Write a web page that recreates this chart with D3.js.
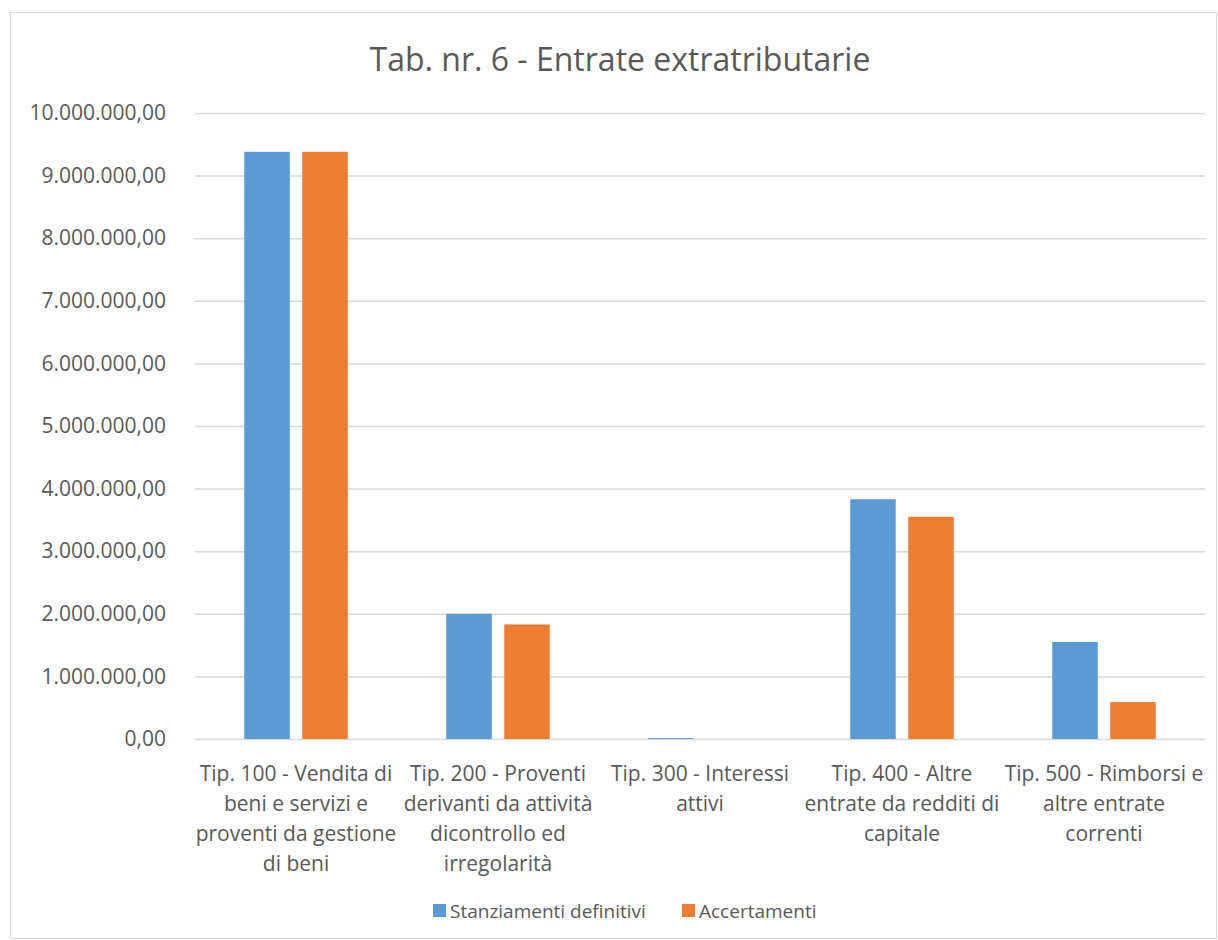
<!DOCTYPE html>
<html>
<head>
<meta charset="utf-8">
<script src="https://cdn.jsdelivr.net/npm/d3@7"></script>
<style>
  body { margin: 0; background: #fff; }
  svg text { font-family: "Open Sans", "Noto Sans", sans-serif; fill: #595959; }
</style>
</head>
<body>
<svg id="chart"></svg>
<script>
// data
const categories = [
  "Tip. 100 - Vendita di|beni e servizi e|proventi da gestione|di beni",
  "Tip. 200 - Proventi|derivanti da attività|dicontrollo ed|irregolarità",
  "Tip. 300 - Interessi|attivi",
  "Tip. 400 - Altre|entrate da redditi di|capitale",
  "Tip. 500 - Rimborsi e|altre entrate|correnti"
];
const seriesNames = ["Stanziamenti definitivi", "Accertamenti"];
const stanziamenti = [9380000, 2000000, 15000, 3830000, 1550000];
const accertamenti = [9380000, 1830000, 0, 3550000, 590000];
const yTicks = [0, 1e6, 2e6, 3e6, 4e6, 5e6, 6e6, 7e6, 8e6, 9e6, 10e6];
const colors = ["#5b9bd5", "#ed7d31"];

const width = 1218, height = 940;
const margin = {top: 113, right: 13, bottom: 200, left: 195};

const svg = d3.select("#chart").attr("width", width).attr("height", height);

// outer frame
svg.append("rect")
  .attr("x", 10.5).attr("y", 12.5)
  .attr("width", width - 12).attr("height", height - 14)
  .attr("fill", "#fff").attr("stroke", "#d9d9d9");

svg.append("text")
  .attr("x", 620).attr("y", 71)
  .attr("text-anchor", "middle")
  .style("font-size", "32px")
  .text("Tab. nr. 6 - Entrate extratributarie");

const x = d3.scaleBand()
  .domain(d3.range(categories.length))
  .range([margin.left, width - margin.right]);

const xInner = d3.scaleBand()
  .domain(d3.range(seriesNames.length))
  .range([0, x.bandwidth()])
  .paddingInner(0.2155)
  .paddingOuter(0.849);

const y = d3.scaleLinear()
  .domain([0, 10e6])
  .range([height - margin.bottom - 1, margin.top]);

const fmt = d3.formatLocale({decimal: ",", thousands: ".", grouping: [3], currency: ["", ""]}).format(",.2f");

// y axis with gridlines
const yAxis = svg.append("g")
  .attr("transform", `translate(${margin.left},0)`)
  .call(d3.axisLeft(y).tickValues(yTicks).tickFormat(fmt).tickSize(0).tickPadding(29));
yAxis.select(".domain").remove();
yAxis.selectAll(".tick text").style("font-size", "21px").attr("fill", "#595959");
yAxis.selectAll(".tick line").clone()
  .attr("x2", width - margin.left - margin.right)
  .attr("stroke", "#d9d9d9").attr("stroke-width", 1.5);

// bars
const series = [stanziamenti, accertamenti];
series.forEach((vals, s) => {
  svg.append("g").selectAll("rect")
    .data(vals)
    .join("rect")
    .attr("x", (d, i) => x(i) + xInner(s))
    .attr("width", xInner.bandwidth())
    .attr("y", d => y(d))
    .attr("height", d => y(0) - y(d))
    .attr("fill", colors[s]);
});

// category labels
const xl = svg.append("g");
categories.forEach((c, i) => {
  const t = xl.append("text")
    .attr("text-anchor", "middle")
    .attr("x", x(i) + x.bandwidth() / 2)
    .style("font-size", "21px");
  c.split("|").forEach((line, j) => {
    t.append("tspan")
      .attr("x", x(i) + x.bandwidth() / 2)
      .attr("y", 781 + j * 30)
      .text(line);
  });
});

// legend
const legend = svg.append("g");
const legendX = [433, 682];
seriesNames.forEach((name, s) => {
  legend.append("rect")
    .attr("x", legendX[s]).attr("y", 904)
    .attr("width", 13).attr("height", 13)
    .attr("fill", colors[s]);
  legend.append("text")
    .attr("x", legendX[s] + 17).attr("y", 918)
    .style("font-size", "19px")
    .text(name);
});
</script>
</body>
</html>
